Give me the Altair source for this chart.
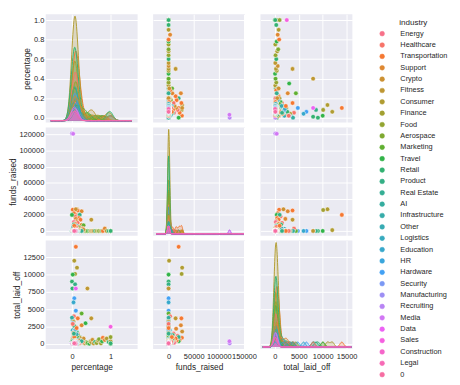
import math
import altair as alt
import pandas as pd

# ---------------- data ----------------
INDUSTRIES = ["Energy", "Healthcare", "Transportation", "Support", "Crypto", "Fitness",
              "Consumer", "Finance", "Food", "Aerospace", "Marketing", "Travel", "Retail",
              "Product", "Real Estate", "AI", "Infrastructure", "Other", "Logistics",
              "Education", "HR", "Hardware", "Security", "Manufacturing", "Recruiting",
              "Media", "Data", "Sales", "Construction", "Legal", "0"]

# larger / spread-out layoffs
industry_a = [
    "Transportation", "Consumer", "Consumer", "Finance", "Travel", "Retail", "Product", "Retail", "Data", "Fitness",
    "Hardware", "Education", "Hardware", "Fitness", "Marketing", "Healthcare", "Travel", "Sales", "Transportation", "Support",
    "Other", "AI",
    "Retail", "Consumer", "Food", "Marketing", "Travel", "Finance", "Consumer", "Crypto", "Fitness", "Retail",
    "Food", "Consumer", "Aerospace", "Finance", "Travel", "Transportation", "Support", "Consumer", "Retail", "Travel",
    "Consumer", "Food", "Retail",
    "Transportation", "Crypto", "Transportation", "Healthcare", "Travel", "Product", "Transportation", "Support", "Transportation", "Crypto",
    "Energy", "Healthcare", "Transportation", "Retail", "Support", "Marketing", "Logistics", "AI", "Food", "Real Estate",
    "Infrastructure", "Transportation", "Other", "Consumer", "Crypto", "Education", "HR", "Security", "Manufacturing", "Recruiting",
    "Media", "Construction", "Legal", "0", "Sales", "Data", "Energy", "Finance", "Finance", "Finance",
    "Finance", "Consumer", "Consumer", "Consumer", "Consumer", "Consumer", "Consumer", "Consumer", "Food", "Food",
    "Retail", "Retail", "Retail", "Retail", "Travel", "Travel", "Fitness", "Fitness", "Aerospace", "Marketing",
    "Hardware", "Hardware", "Education", "Other", "Other", "Logistics", "Healthcare", "Healthcare", "Support", "Transportation",
    "Transportation", "Crypto", "Product", "Real Estate", "Infrastructure",
]
percentage_a = [
    0.10, 0.06, 0.13, 0.08, 0.02, 0.00, 0.08, 0.01, 0.10, 0.40,
    0.06, 0.04, 0.10, 0.50, 0.25, 0.05, 0.35, 1.00, 0.15, 0.25,
    0.02, 0.00,
    0.30, 0.33, 0.36, 0.40, 0.45, 0.48, 0.50, 0.53, 0.56, 0.60,
    0.64, 0.68, 0.70, 0.75, 0.78, 0.80, 0.85, 0.90, 0.95, 1.00,
    1.00, 1.00, 1.00,
    0.02, 0.10, 0.05, 0.08, 0.00, 0.20, 0.18, 0.10, 0.22, 0.12,
    0.05, 0.15, 0.08, 0.05, 0.25, 0.30, 0.12, 0.03, 0.18, 0.10,
    0.07, 0.28, 0.02, 0.20, 0.30, 0.15, 0.05, 0.12, 0.08, 0.00,
    0.03, 0.10, 0.05, 0.02, 0.08, 0.15, 0.20, 0.03, 0.05, 0.09,
    0.12, 0.04, 0.08, 0.02, 0.05, 0.07, 0.10, 0.12, 0.10, 0.06,
    0.12, 0.06, 0.03, 0.08, 0.16, 0.07, 0.20, 0.05, 0.10, 0.14,
    0.02, 0.07, 0.09, 0.12, 0.06, 0.18, 0.02, 0.10, 0.04, 0.12,
    0.06, 0.20, 0.05, 0.25, 0.15,
]
funds_raised_a = [
    20000, 1000, 27000, 26000, 0, 0, 0, 0, 0, 0,
    0, 0, 0, 14000, 0, 3000, 0, 0, 25500, 24500,
    0, 0,
    0, 0, 0, 0, 0, 0, 0, 0, 0, 0,
    0, 0, 0, 0, 0, 0, 3000, 0, 0, 0,
    0, 0, 0,
    26500, 27000, 22000, 18000, 20000, 20000, 16000, 15000, 14000, 12000,
    11000, 10000, 9000, 8000, 7500, 7000, 6000, 5000, 4500, 4000,
    3500, 3000, 2500, 2000, 1500, 1000, 800, 600, 400, 121500,
    121000, 0, 0, 0, 0, 500, 0, 0, 0, 1500,
    0, 0, 0, 500, 0, 1200, 0, 2500, 0, 0,
    0, 0, 0, 1000, 0, 0, 0, 0, 0, 0,
    0, 0, 0, 3000, 0, 0, 0, 5000, 0, 0,
    6500, 0, 0, 0, 0,
]
total_laid_off_a = [
    14000, 12000, 11000, 10100, 10000, 9000, 8600, 8000, 8000, 8000,
    6600, 6000, 4800, 3700, 4400, 4000, 3000, 2500, 3700, 2700,
    3400, 3800,
    200, 100, 300, 150, 50, 400, 250, 600, 100, 300,
    150, 500, 700, 100, 400, 900, 600, 800, 300, 0,
    400, 1000, 100,
    900, 1800, 600, 1200, 400, 1000, 500, 2200, 800, 300,
    200, 1500, 700, 1300, 400, 600, 300, 900, 200, 1100,
    500, 300, 2000, 100, 800, 400, 1700, 300, 100, 100,
    400, 200, 100, 50, 300, 600, 150, 2800, 1500, 600,
    200, 3200, 2000, 700, 400, 1000, 150, 600, 2400, 800,
    1800, 2600, 500, 900, 1200, 300, 900, 1300, 700, 1000,
    3000, 1900, 2100, 1400, 700, 600, 2900, 350, 1600, 2300,
    1000, 500, 1500, 400, 250,
]

# the many small layoffs crowded near the origin
industry_b = (["Consumer"] * 14 + ["Finance"] * 8 + ["Retail"] * 10 + ["Transportation"] * 8
              + ["Food"] * 6 + ["Healthcare"] * 6 + ["Travel"] * 4 + ["Other"] * 4
              + ["Fitness"] * 3 + ["Support"] * 3
              + ["Crypto"] * 2 + ["Education"] * 2 + ["Marketing"] * 2 + ["Recruiting"] * 2
              + ["Media"] * 2 + ["Product"] * 2 + ["Real Estate"] * 2 + ["AI"] * 2
              + ["Logistics"] * 2 + ["Hardware"] * 2 + ["Sales"] * 2 + ["Data"] * 2
              + ["Security", "Infrastructure", "Energy", "HR", "Manufacturing", "Aerospace",
                 "Construction", "Legal", "0"])
percentage_b = [
    0.03, 0.05, 0.06, 0.07, 0.08, 0.09, 0.10, 0.11, 0.04, 0.06, 0.08, 0.05, 0.12, 0.14,
    0.04, 0.06, 0.07, 0.10, 0.05, 0.08, 0.12, 0.09,
    0.04, 0.05, 0.07, 0.09, 0.10, 0.06, 0.11, 0.13, 0.08, 0.15,
    0.05, 0.07, 0.09, 0.11, 0.13, 0.06, 0.16, 0.10,
    0.06, 0.08, 0.10, 0.12, 0.05, 0.14,
    0.05, 0.08, 0.11, 0.07, 0.13, 0.09,
    0.06, 0.09, 0.12, 0.08,
    0.05, 0.08, 0.10, 0.14,
    0.07, 0.10, 0.12,
    0.06, 0.09, 0.11,
    0.08, 0.12, 0.06, 0.10, 0.07, 0.11, 0.08, 0.12, 0.06, 0.10, 0.07, 0.10,
    0.08, 0.12, 0.06, 0.09, 0.07, 0.10, 0.08, 0.11, 0.07, 0.10, 0.06, 0.09,
    0.07, 0.09, 0.08, 0.10, 0.06, 0.09, 0.07, 0.09, 0.06,
]
funds_raised_b = [
    0, 0, 300, 0, 0, 800, 0, 0, 0, 0, 1500, 0, 0, 0,
    0, 0, 500, 0, 0, 0, 0, 0,
    0, 0, 0, 0, 600, 0, 0, 0, 0, 0,
    0, 2000, 0, 0, 0, 0, 1000, 0,
    0, 0, 0, 0, 400, 0,
    0, 0, 0, 0, 0, 700,
    0, 0, 0, 0,
    0, 0, 0, 0,
    0, 0, 0,
    0, 0, 0,
    0, 0, 0, 0, 0, 0, 0, 0, 0, 0, 0, 0,
    0, 0, 0, 0, 0, 0, 0, 0, 0, 0, 0, 0,
    0, 0, 0, 0, 0, 0, 0, 0, 0,
]
total_laid_off_b = [
    120, 60, 250, 90, 400, 180, 30, 320, 210, 140, 500, 80, 260, 110,
    150, 90, 300, 60, 220, 40, 130, 350,
    180, 70, 420, 120, 260, 30, 150, 90, 340, 200,
    160, 280, 110, 380, 60, 230, 140, 450,
    100, 200, 320, 80, 150, 260,
    120, 60, 240, 300, 90, 170,
    140, 300, 80, 210,
    100, 240, 60, 170,
    130, 220, 70,
    90, 260, 150,
    200, 110, 80, 160, 120, 60, 100, 150, 90, 200, 110, 230,
    140, 60, 170, 80, 120, 210, 190, 70, 110, 60, 140, 230,
    90, 120, 150, 100, 80, 130, 90, 60, 110,
]

VARS = ["percentage", "funds_raised", "total_laid_off"]
X_TICKS = {"percentage": [0, 1], "funds_raised": [0, 50000, 100000, 150000],
           "total_laid_off": [0, 5000, 10000, 15000]}
Y_TICKS = {"percentage": [0.0, 0.2, 0.4, 0.6, 0.8, 1.0],
           "funds_raised": [0, 20000, 40000, 60000, 80000, 100000, 120000],
           "total_laid_off": [0, 2500, 5000, 7500, 10000, 12500]}

# ---------------- seaborn "husl" palette ----------------
_M = [[3.2406, -1.5372, -0.4986], [-0.9689, 1.8758, 0.0415], [0.0557, -0.2040, 1.0570]]


def _max_chroma(L, H):
    hrad = math.radians(H)
    sinH, cosH = math.sin(hrad), math.cos(hrad)
    sub1 = (L + 16) ** 3 / 1560896.0
    sub2 = sub1 if sub1 > 0.008856 else L / 903.3
    result = float("inf")
    for m1, m2, m3 in _M:
        top = (0.99915 * m1 + 1.05122 * m2 + 1.14460 * m3) * sub2
        rbottom = 0.86330 * m3 - 0.17266 * m2
        lbottom = 0.12949 * m3 - 0.38848 * m1
        bottom = (rbottom * sinH + lbottom * cosH) * sub2
        for t in (0.0, 1.0):
            C = L * (top - 1.05122 * t) / (bottom + 0.17266 * sinH * t)
            if 0.0 < C < result:
                result = C
    return result


def _husl_to_hex(h, s, l):
    C = _max_chroma(l, h) / 100.0 * s
    hr = math.radians(h)
    U, V = math.cos(hr) * C, math.sin(hr) * C
    t = (l + 16.0) / 116.0
    Y = t ** 3 if t ** 3 > 0.008856 else (116.0 * t - 16.0) / 903.3
    vu = U / (13.0 * l) + 0.19784
    vv = V / (13.0 * l) + 0.46834
    X = -(9.0 * Y * vu) / ((vu - 4.0) * vv - vu * vv)
    Z = (9.0 * Y - 15.0 * vv * Y - vv * X) / (3.0 * vv)
    out = []
    for row in _M:
        c = row[0] * X + row[1] * Y + row[2] * Z
        c = 12.92 * c if c <= 0.0031308 else 1.055 * c ** (1 / 2.4) - 0.055
        c = min(max(c, 0.0), 1.0)
        out.append(int(round(c * 255)))
    return "#%02x%02x%02x" % tuple(out)


n = len(INDUSTRIES)
PALETTE = [_husl_to_hex(((i / n) + 0.01) % 1 * 359, 0.9 * 99, 0.65 * 99) for i in range(n)]

# ---------------- layout / style ----------------
X_DOM = {"percentage": [-0.68, 1.7], "funds_raised": [-30800, 152000], "total_laid_off": [-3000, 16200]}
Y_DOM = {"percentage": [-0.05, 1.06], "funds_raised": [-6000, 129000], "total_laid_off": [-700, 14900]}
BW = {"percentage": 0.08, "funds_raised": 2000, "total_laid_off": 400}
KEXT = {"percentage": [-0.55, 1.55], "funds_raised": [-25000, 150000], "total_laid_off": [-2500, 16000]}
STEPS = {"percentage": 220, "funds_raised": 600, "total_laid_off": 500}
X_FMT = {"percentage": "d", "funds_raised": "d", "total_laid_off": "d"}
Y_FMT = {"percentage": ".1f", "funds_raised": "d", "total_laid_off": "d"}
W, H = 95, 112
FONT = "Liberation Sans"

df = pd.DataFrame({
    "industry": industry_a + industry_b,
    "percentage": percentage_a + percentage_b,
    "funds_raised": funds_raised_a + funds_raised_b,
    "total_laid_off": total_laid_off_a + total_laid_off_b,
})

cscale = alt.Scale(domain=INDUSTRIES, range=PALETTE)
leg = alt.Legend(title="industry")


def x_axis(v, show):
    kw = dict(values=X_TICKS[v], grid=True, ticks=False, domain=False,
              labelFlush=False, labelOverlap=False, format=X_FMT[v])
    if show:
        kw.update(labels=True, title=v, labelPadding=4, titlePadding=3)
    else:
        kw.update(labels=False, title=None)
    return alt.Axis(**kw)


def y_axis(v, show):
    kw = dict(values=Y_TICKS[v], grid=True, ticks=False, domain=False,
              labelFlush=False, labelOverlap=False, format=Y_FMT[v])
    if show:
        kw.update(labels=True, title=v, labelPadding=2, titlePadding=2)
    else:
        kw.update(labels=False, title=None)
    return alt.Axis(**kw)


def xenc(field, v, r):
    return alt.X(field, type="quantitative",
                 scale=alt.Scale(domain=X_DOM[v], nice=False, zero=False), axis=x_axis(v, r == 2))


def yenc(field, v, c):
    return alt.Y(field, type="quantitative",
                 scale=alt.Scale(domain=Y_DOM[v], nice=False, zero=False), axis=y_axis(v, c == 0))


def scatter(r, c):
    xv, yv = VARS[c], VARS[r]
    return alt.Chart(df).mark_circle(size=22, opacity=1, stroke="white", strokeWidth=0.5).encode(
        x=xenc(xv, xv, r),
        y=yenc(yv, yv, c),
        color=alt.Color("industry:N", scale=cscale, legend=leg),
    ).properties(width=W, height=H)


def diag(i):
    v = VARS[i]
    base = alt.Chart(df).mark_point(opacity=0).encode(
        x=xenc(v, v, i),
        y=yenc(v, v, i),
    )
    dens = alt.Chart(df).transform_density(
        v, as_=["value", "density"], groupby=["industry"], bandwidth=BW[v],
        extent=KEXT[v], steps=STEPS[v], counts=True,
    ).mark_area(fillOpacity=0.25, line={"strokeWidth": 1}, clip=True).encode(
        x=xenc("value", v, i),
        y=alt.Y("density:Q", stack=None, scale=alt.Scale(zero=True, nice=False, padding=2), axis=None),
        color=alt.Color("industry:N", scale=cscale, legend=leg),
    )
    return alt.layer(base, dens).resolve_scale(y="independent").properties(width=W, height=H)


panels = []
for r in range(3):
    for c in range(3):
        panels.append(diag(r) if r == c else scatter(r, c))

chart = alt.concat(
    *panels, columns=3, spacing={"row": 5, "column": 16}, bounds="flush"
).properties(
    padding=0, background="white"
).configure_view(
    fill="#EAEAF2", strokeWidth=0
).configure_axis(
    gridColor="white", gridWidth=1, labelFont=FONT, titleFont=FONT,
    labelColor="#262626", titleColor="#262626", labelFontSize=7.7,
    titleFontSize=8.6, titleFontWeight="normal",
).configure_legend(
    orient="right", offset=18, padding=4, labelFont=FONT, titleFont=FONT,
    labelFontSize=7.6, titleFontSize=8.3, titleFontWeight="normal",
    labelColor="#262626", titleColor="#262626", symbolType="circle",
    symbolSize=24, symbolStrokeColor="white", symbolStrokeWidth=0.5,
    symbolOpacity=1, rowPadding=2.75, labelOffset=15, titleAnchor="middle",
    titlePadding=4, symbolLimit=40,
)

chart.save("out.html", embed_options={"renderer": "svg", "actions": False})
